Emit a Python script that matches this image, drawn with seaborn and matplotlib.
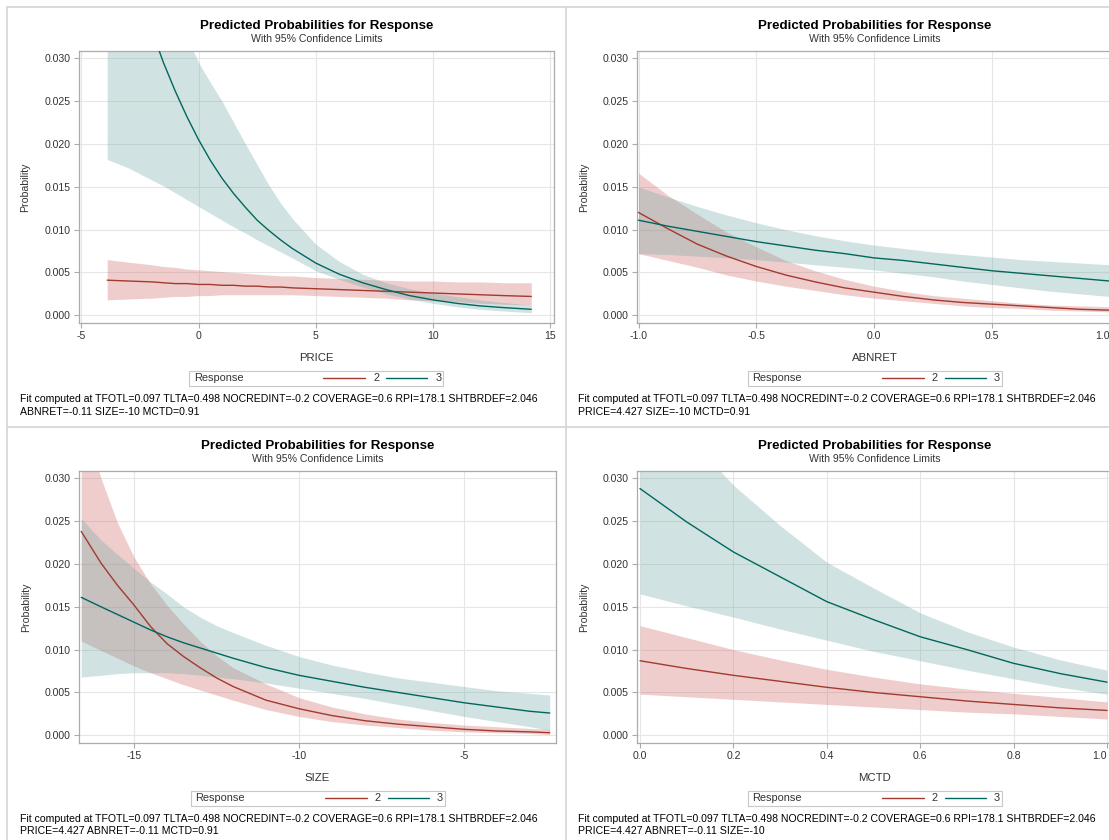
import pandas as pd
import matplotlib.pyplot as plt
import seaborn as sns
from matplotlib.lines import Line2D
from matplotlib.patches import Rectangle

sns.set_theme(style="white")
plt.rcParams['font.family'] = ['Liberation Sans', 'DejaVu Sans']
plt.rcParams['axes.unicode_minus'] = False

W, H = 1109, 840

# ---- PRICE panel
price_x = [-3.9, -3, -2, -1.5, -1, -0.5, 0, 0.5, 1, 1.5, 2, 2.5, 3, 3.5, 4,
           5, 6, 7, 8, 9, 10, 11, 12, 13, 14.2]
price_r2 = [0.0041, 0.0040, 0.0039, 0.0038, 0.0037, 0.0037, 0.0036, 0.0036, 0.0035, 0.0035,
            0.0034, 0.0034, 0.0033, 0.0033, 0.0032, 0.0031, 0.0030, 0.0029, 0.0028, 0.0027,
            0.0026, 0.0025, 0.0024, 0.0023, 0.0022]
price_r2_lo = [0.0018, 0.0019, 0.0020, 0.0021, 0.0022, 0.0022, 0.0023, 0.0023, 0.0024, 0.0024,
               0.0024, 0.0024, 0.0024, 0.0024, 0.0024, 0.0023, 0.0022, 0.0021, 0.0020, 0.0018,
               0.0017, 0.0016, 0.0014, 0.0013, 0.0012]
price_r2_hi = [0.0065, 0.0062, 0.0059, 0.0057, 0.0056, 0.0054, 0.0053, 0.0052, 0.0051, 0.0050,
               0.0049, 0.0048, 0.0047, 0.0046, 0.0046, 0.0044, 0.0043, 0.0042, 0.0041, 0.0040,
               0.0040, 0.0039, 0.0039, 0.0038, 0.0038]
price_r3 = [0.052, 0.043, 0.0333, 0.0295, 0.0262, 0.0232, 0.0205, 0.0181, 0.0160, 0.0142,
            0.0126, 0.0111, 0.0099, 0.0088, 0.0078, 0.0061, 0.0048, 0.0038, 0.0030, 0.0023,
            0.0018, 0.0014, 0.0011, 0.0009, 0.0007]
price_r3_lo = [0.0182, 0.0172, 0.0158, 0.0151, 0.0143, 0.0135, 0.0127, 0.0119, 0.0111, 0.0103,
               0.0096, 0.0088, 0.0081, 0.0074, 0.0067, 0.0052, 0.0042, 0.0033, 0.0025, 0.0019,
               0.0014, 0.0010, 0.0007, 0.0005, 0.0003]
price_r3_hi = [0.072, 0.060, 0.047, 0.041, 0.036, 0.0325, 0.0295, 0.0272, 0.0250, 0.0225,
               0.0200, 0.0176, 0.0152, 0.0131, 0.0113, 0.0083, 0.0063, 0.0048, 0.0038, 0.0031,
               0.0026, 0.0022, 0.0018, 0.0015, 0.0012]

# ---- ABNRET panel
abn_x = [-1.0, -0.875, -0.75, -0.625, -0.5, -0.375, -0.25, -0.125, 0.0,
         0.125, 0.25, 0.375, 0.5, 0.625, 0.75, 0.875, 1.0]
abn_r2 = [0.0120, 0.0101, 0.0083, 0.0069, 0.0057, 0.0047, 0.0039, 0.0032, 0.0027,
          0.0022, 0.0018, 0.0015, 0.0013, 0.0011, 0.0009, 0.0007, 0.0006]
abn_r2_lo = [0.0072, 0.0064, 0.0056, 0.0047, 0.0040, 0.0034, 0.0029, 0.0024, 0.0020,
             0.0017, 0.0014, 0.0011, 0.0009, 0.0008, 0.0006, 0.0005, 0.0004]
abn_r2_hi = [0.0166, 0.0140, 0.0118, 0.0097, 0.0080, 0.0064, 0.0052, 0.0042, 0.0034,
             0.0028, 0.0023, 0.0020, 0.0017, 0.0014, 0.0012, 0.0011, 0.0010]
abn_r3 = [0.0111, 0.0104, 0.0098, 0.0092, 0.0086, 0.0081, 0.0076, 0.0072, 0.0067,
          0.0064, 0.0060, 0.0056, 0.0052, 0.0049, 0.0046, 0.0043, 0.0040]
abn_r3_lo = [0.0072, 0.0071, 0.0069, 0.0067, 0.0065, 0.0062, 0.0059, 0.0056, 0.0053,
             0.0049, 0.0045, 0.0040, 0.0036, 0.0032, 0.0028, 0.0025, 0.0022]
abn_r3_hi = [0.0150, 0.0138, 0.0127, 0.0117, 0.0108, 0.0100, 0.0093, 0.0087, 0.0082,
             0.0078, 0.0074, 0.0071, 0.0068, 0.0065, 0.0063, 0.0061, 0.0059]

# ---- SIZE panel
size_x = [-16.6, -16, -15.5, -15, -14.5, -14, -13.5, -13, -12.5, -12,
          -11, -10, -9, -8, -7, -6, -5, -4, -3, -2.4]
size_r2 = [0.0238, 0.0201, 0.0175, 0.0152, 0.0127, 0.0107, 0.0092, 0.0079, 0.0067, 0.0057,
           0.0041, 0.0031, 0.0023, 0.0017, 0.0013, 0.0010, 0.0007, 0.0005, 0.0004, 0.0003]
size_r2_lo = [0.0110, 0.0099, 0.0090, 0.0081, 0.0073, 0.0066, 0.0059, 0.0053, 0.0047, 0.0041,
              0.0030, 0.0022, 0.0016, 0.0012, 0.0009, 0.0006, 0.0004, 0.0003, 0.0002, 0.0001]
size_r2_hi = [0.038, 0.0300, 0.0248, 0.0208, 0.0177, 0.0152, 0.0130, 0.0110, 0.0093, 0.0079,
              0.0060, 0.0044, 0.0033, 0.0025, 0.0019, 0.0015, 0.0012, 0.0010, 0.0008, 0.0007]
size_r3 = [0.0161, 0.0150, 0.0141, 0.0132, 0.0123, 0.0115, 0.0108, 0.0102, 0.0096, 0.0090,
           0.0079, 0.0070, 0.0063, 0.0056, 0.0050, 0.0044, 0.0038, 0.0033, 0.0028, 0.0026]
size_r3_lo = [0.0068, 0.0070, 0.0072, 0.0073, 0.0073, 0.0073, 0.0072, 0.0070, 0.0068, 0.0066,
              0.0061, 0.0055, 0.0049, 0.0043, 0.0036, 0.0029, 0.0022, 0.0016, 0.0010, 0.0006]
size_r3_hi = [0.0253, 0.0228, 0.0211, 0.0195, 0.0179, 0.0165, 0.0150, 0.0138, 0.0128, 0.0120,
              0.0105, 0.0092, 0.0082, 0.0074, 0.0067, 0.0062, 0.0057, 0.0052, 0.0049, 0.0047]

# ---- MCTD panel
mctd_x = [0.0, 0.1, 0.2, 0.3, 0.4, 0.5, 0.6, 0.7, 0.8, 0.9, 1.0]
mctd_r2 = [0.0087, 0.0078, 0.0070, 0.0063, 0.0056, 0.0050, 0.0045, 0.0040, 0.0036, 0.0032, 0.0029]
mctd_r2_lo = [0.0048, 0.0045, 0.0042, 0.0039, 0.0036, 0.0033, 0.0030, 0.0027, 0.0025, 0.0022, 0.0019]
mctd_r2_hi = [0.0128, 0.0114, 0.0100, 0.0088, 0.0077, 0.0068, 0.0060, 0.0054, 0.0049, 0.0044, 0.0039]
mctd_r3 = [0.0288, 0.0249, 0.0214, 0.0185, 0.0156, 0.0135, 0.0115, 0.0100, 0.0084, 0.0072, 0.0062]
mctd_r3_lo = [0.0165, 0.0151, 0.0138, 0.0124, 0.0111, 0.0098, 0.0087, 0.0076, 0.0066, 0.0056, 0.0048]
mctd_r3_hi = [0.040, 0.035, 0.0292, 0.0245, 0.0202, 0.0172, 0.0143, 0.0121, 0.0103, 0.0088, 0.0076]

y_ticks = [0.000, 0.005, 0.010, 0.015, 0.020, 0.025, 0.030]
y_tick_labels = ["0.000", "0.005", "0.010", "0.015", "0.020", "0.025", "0.030"]
price_ticks, price_labels = [-5, 0, 5, 10, 15], ["-5", "0", "5", "10", "15"]
abn_ticks, abn_labels = [-1.0, -0.5, 0.0, 0.5, 1.0], ["-1.0", "-0.5", "0.0", "0.5", "1.0"]
size_ticks, size_labels = [-15, -10, -5], ["-15", "-10", "-5"]
mctd_ticks = [0.0, 0.2, 0.4, 0.6, 0.8, 1.0]
mctd_labels = ["0.0", "0.2", "0.4", "0.6", "0.8", "1.0"]

responses = ["2", "3"]
line_colors = {"2": "#A23A2E", "3": "#01665E"}
band_colors = {"2": "#D05B5B", "3": "#66A5A0"}

fit_line1 = "Fit computed at TFOTL=0.097 TLTA=0.498 NOCREDINT=-0.2 COVERAGE=0.6 RPI=178.1 SHTBRDEF=2.046"

panels = [
    dict(name="PRICE", x=price_x, r2=(price_r2, price_r2_lo, price_r2_hi),
         r3=(price_r3, price_r3_lo, price_r3_hi), ticks=price_ticks, labels=price_labels,
         xlim=(-5.12, 15.17), px=(78.6, 554, 51, 323), fx=20, fy=399, cut=False,
         note="ABNRET=-0.11 SIZE=-10 MCTD=0.91"),
    dict(name="ABNRET", x=abn_x, r2=(abn_r2, abn_r2_lo, abn_r2_hi),
         r3=(abn_r3, abn_r3_lo, abn_r3_hi), ticks=abn_ticks, labels=abn_labels,
         xlim=(-1.0064, 1.0107), px=(637, 1112, 51, 323), fx=578, fy=399, cut=True,
         note="PRICE=4.427 SIZE=-10 MCTD=0.91"),
    dict(name="SIZE", x=size_x, r2=(size_r2, size_r2_lo, size_r2_hi),
         r3=(size_r3, size_r3_lo, size_r3_hi), ticks=size_ticks, labels=size_labels,
         xlim=(-16.667, -2.21), px=(79, 556, 471, 743), fx=20, fy=819, cut=False,
         note="PRICE=4.427 ABNRET=-0.11 MCTD=0.91"),
    dict(name="MCTD", x=mctd_x, r2=(mctd_r2, mctd_r2_lo, mctd_r2_hi),
         r3=(mctd_r3, mctd_r3_lo, mctd_r3_hi), ticks=mctd_ticks, labels=mctd_labels,
         xlim=(-0.0064, 1.0107), px=(637, 1112, 471, 743), fx=578, fy=819, cut=True,
         note="PRICE=4.427 ABNRET=-0.11 SIZE=-10"),
]

fig = plt.figure(figsize=(W / 100, H / 100), dpi=100)
fig.patch.set_facecolor("white")


def fxp(x):
    return x / W


def fyp(y):
    return 1 - y / H


frame_col = "#ABABAB"
grid_col = "#E6E6E6"
text_col = "#333333"
fs = 7.6

for p in panels:
    l, r, t, b = p["px"]
    ax = fig.add_axes([fxp(l), fyp(b), (r - l) / W, (b - t) / H])

    rows = []
    for resp, (est, lo, hi) in (("2", p["r2"]), ("3", p["r3"])):
        for xv, e, lv, hv in zip(p["x"], est, lo, hi):
            rows.append(dict(x=xv, resp=resp, est=e, lo=lv, hi=hv))
    df = pd.DataFrame(rows)

    for resp in responses:
        d = df[df.resp == resp]
        ax.fill_between(d.x, d.lo, d.hi, color=band_colors[resp], alpha=0.3, lw=0, zorder=1)
    sns.lineplot(data=df, x="x", y="est", hue="resp", palette=line_colors,
                 ax=ax, legend=False, lw=1.0, zorder=3, sort=True)

    ax.set_xlim(*p["xlim"])
    ax.set_ylim(-0.0009, 0.03085)
    ax.set_xticks(p["ticks"])
    ax.set_xticklabels(p["labels"])
    ax.set_yticks(y_ticks)
    ax.set_yticklabels(y_tick_labels)
    if p["cut"]:
        # the right-hand panels run off the edge of the image; keep the end label inside
        ax.get_xticklabels()[-1].set_horizontalalignment("right")
    ax.grid(True, color=grid_col, lw=0.8, zorder=0)
    ax.set_axisbelow(True)
    for s in ax.spines.values():
        s.set_color(frame_col)
        s.set_linewidth(0.9)
    ax.tick_params(axis="both", which="major", direction="out", length=3.5, width=0.8,
                   color=frame_col, labelcolor=text_col, labelsize=fs, pad=2.5,
                   bottom=True, left=True, top=False, right=False)
    ax.set_xlabel(p["name"], fontsize=fs + 0.6, color=text_col, labelpad=8.5)
    ax.set_ylabel("Probability", fontsize=fs, color=text_col, labelpad=10)

    cx = (l + r) / 2
    fig.text(fxp(cx), fyp(t - 25.5), "Predicted Probabilities for Response", ha="center",
             va="center", fontsize=9.6, fontweight="bold", color="black")
    fig.text(fxp(cx), fyp(t - 12), "With 95% Confidence Limits", ha="center",
             va="center", fontsize=fs, color=text_col)

    # legend box below the axes
    lb_left = cx - 127
    lb_top = b + 47.7
    fig.add_artist(Rectangle((fxp(lb_left), fyp(lb_top + 15)), 254 / W, 15 / H,
                             transform=fig.transFigure, fill=False, ec="#C8C8C8", lw=0.8))
    ly = lb_top + 7.5
    fig.text(fxp(lb_left + 5), fyp(ly), "Response", ha="left", va="center",
             fontsize=fs + 0.3, color=text_col)
    for resp, (x0, x1, tx) in zip(responses, ((134, 176, 184), (197, 238, 246))):
        fig.add_artist(Line2D([fxp(lb_left + x0), fxp(lb_left + x1)], [fyp(ly), fyp(ly)],
                              transform=fig.transFigure, color=line_colors[resp], lw=1.0))
        fig.text(fxp(lb_left + tx), fyp(ly), resp, ha="left", va="center",
                 fontsize=fs + 0.3, color=text_col)

    fig.text(fxp(p["fx"]), fyp(p["fy"] + 0.5), fit_line1, ha="left", va="center",
             fontsize=fs, color="black")
    fig.text(fxp(p["fx"]), fyp(p["fy"] + 12.5), p["note"], ha="left", va="center",
             fontsize=fs, color="black")

# panel borders
border = "#D4D4D4"
for xv in (7, 565.7):
    fig.add_artist(Line2D([fxp(xv), fxp(xv)], [fyp(7), fyp(840)], transform=fig.transFigure,
                          color=border, lw=1.2))
for yv in (7, 427.3):
    fig.add_artist(Line2D([fxp(7), fxp(1109)], [fyp(yv), fyp(yv)], transform=fig.transFigure,
                          color=border, lw=1.2))

fig.savefig("out.png", dpi=100, facecolor="white")
